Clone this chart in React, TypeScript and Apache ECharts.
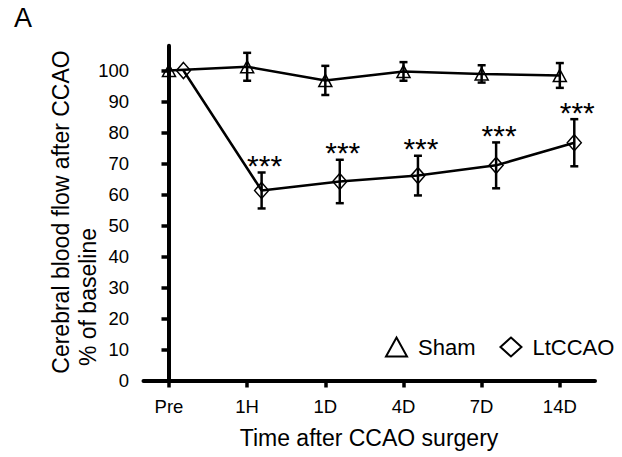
import React, { useEffect, useRef } from "react";
import * as echarts from "echarts";

const categories = ["Pre", "1H", "1D", "4D", "7D", "14D"];
const shamMean = [100, 101.2, 96.8, 99.7, 98.9, 98.4];
const shamErr = [0, 4.5, 4.7, 3.0, 2.8, 4.0];
const ltMean = [100, 61.3, 64.2, 66.1, 69.4, 76.7];
const ltErr = [0, 5.8, 7.0, 6.4, 7.4, 7.6];
const ltSig = ["", "***", "***", "***", "***", "***"];
const yTicks = [0, 10, 20, 30, 40, 50, 60, 70, 80, 90, 100];

const FONT = '"Liberation Sans", Arial, Helvetica, sans-serif';
const SHAM_DX = 0;
const LT_DX = 0.185;

export default function App() {
  const ref = useRef<HTMLDivElement>(null);
  useEffect(() => {
    document.body.style.margin = "0";
    const chart = echarts.init(ref.current!, null, { renderer: "svg" });
    const xIdx = categories.map((_, i) => i);
    const shamPts = xIdx.map((i) => [i + SHAM_DX, shamMean[i], shamErr[i]]);
    const ltPts = xIdx.map((i) => [i + LT_DX, ltMean[i], ltErr[i]]);

    const makeErr = (sig: string[] | null) => (params: any, api: any) => {
      const x = api.value(0);
      const m = api.value(1);
      const e = api.value(2);
      const children: any[] = [];
      if (e > 0) {
        const t = api.coord([x, m + e]);
        const b = api.coord([x, m - e]);
        const st = { stroke: "#000", lineWidth: 2.5 };
        children.push(
          { type: "line", shape: { x1: t[0], y1: t[1], x2: b[0], y2: b[1] }, style: st },
          { type: "line", shape: { x1: t[0] - 4, y1: t[1], x2: t[0] + 4, y2: t[1] }, style: st },
          { type: "line", shape: { x1: b[0] - 4, y1: b[1], x2: b[0] + 4, y2: b[1] }, style: st }
        );
        if (sig && sig[params.dataIndex]) {
          children.push({
            type: "text",
            style: {
              text: sig[params.dataIndex],
              x: t[0] + 3,
              y: t[1] - 7,
              font: `30px ${FONT}`,
              fill: "#000",
              align: "center",
              verticalAlign: "middle",
            },
          });
        }
      }
      return { type: "group", children };
    };

    chart.setOption({
      animation: false,
      backgroundColor: "#fff",
      grid: { left: 143.5, right: 27, top: 45.7, bottom: 76.5 },
      xAxis: {
        type: "value",
        min: -0.326,
        max: 5.45,
        axisLine: { show: true, lineStyle: { color: "#000", width: 4 } },
        axisTick: { show: true, customValues: xIdx, length: 7, lineStyle: { color: "#000", width: 3.5 } },
        axisLabel: {
          customValues: xIdx,
          formatter: (v: number) => categories[Math.round(v)] ?? "",
          fontSize: 18.5,
          fontFamily: FONT,
          color: "#000",
          margin: 16,
        },
        splitLine: { show: false },
      },
      yAxis: {
        type: "value",
        min: 0,
        max: 108,
        axisLine: { show: true, lineStyle: { color: "#000", width: 4 } },
        axisTick: { show: true, customValues: yTicks, length: 7.5, lineStyle: { color: "#000", width: 3.5 } },
        axisLabel: {
          customValues: yTicks,
          fontSize: 18.5,
          fontFamily: FONT,
          color: "#000",
          margin: 14.5,
        },
        splitLine: { show: false },
      },
      legend: {
        orient: "horizontal",
        left: 385,
        top: 336,
        width: 300,
        padding: 0,
        itemWidth: 21,
        itemHeight: 19,
        itemGap: 24,
        textStyle: { fontSize: 22, fontFamily: FONT, color: "#000", padding: [0, 0, 0, 6] },
        itemStyle: { color: "transparent", borderColor: "#000", borderWidth: 2 },
        data: [
          { name: "Sham", icon: "triangle" },
          { name: "LtCCAO", icon: "diamond" },
        ],
      },
      series: [
        {
          name: "Sham",
          type: "line",
          data: shamPts.map((p) => [p[0], p[1]]),
          symbol: "triangle",
          symbolSize: [13, 12],
          lineStyle: { color: "#000", width: 2.5 },
          itemStyle: { color: "transparent", borderColor: "#000", borderWidth: 1.5 },
          z: 2,
        },
        {
          name: "LtCCAO",
          type: "line",
          data: ltPts.map((p) => [p[0], p[1]]),
          symbol: "diamond",
          symbolSize: [14, 16],
          lineStyle: { color: "#000", width: 2.5 },
          itemStyle: { color: "transparent", borderColor: "#000", borderWidth: 1.5 },
          z: 2,
        },
        {
          name: "Sham SEM",
          type: "custom",
          data: shamPts,
          renderItem: makeErr(null),
          z: 3,
        },
        {
          name: "LtCCAO SEM",
          type: "custom",
          data: ltPts,
          renderItem: makeErr(ltSig),
          z: 3,
        },
      ],
      graphic: [
        {
          type: "text",
          x: 14,
          y: 18,
          style: { text: "A", font: `27px ${FONT}`, fill: "#000", align: "left", verticalAlign: "middle" },
        },
        {
          type: "text",
          x: 61,
          y: 212,
          rotation: Math.PI / 2,
          style: {
            text: "Cerebral blood flow after CCAO",
            font: `23px ${FONT}`,
            fill: "#000",
            align: "center",
            verticalAlign: "middle",
          },
        },
        {
          type: "text",
          x: 88,
          y: 297,
          rotation: Math.PI / 2,
          style: {
            text: "% of baseline",
            font: `23px ${FONT}`,
            fill: "#000",
            align: "center",
            verticalAlign: "middle",
          },
        },
        {
          type: "text",
          x: 369,
          y: 438,
          style: {
            text: "Time after CCAO surgery",
            font: `23px ${FONT}`,
            fill: "#000",
            align: "center",
            verticalAlign: "middle",
          },
        },
      ],
    });
    return () => chart.dispose();
  }, []);
  return <div ref={ref} style={{ width: 622, height: 457, position: "fixed", left: 0, top: 0 }} />;
}
